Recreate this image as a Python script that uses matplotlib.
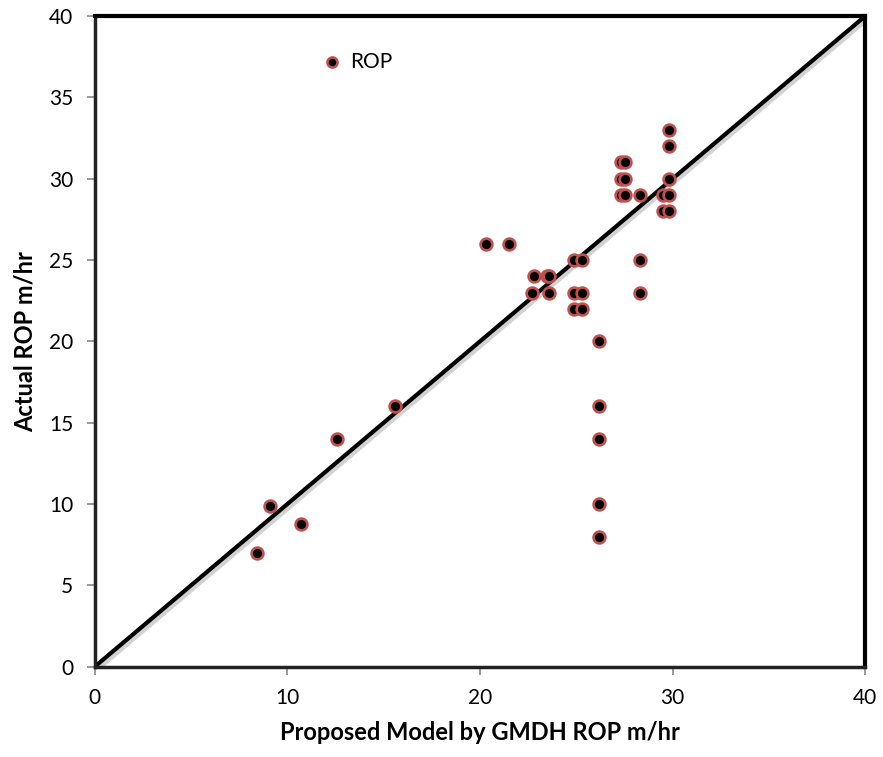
import numpy as np
import matplotlib.pyplot as plt
import matplotlib.patheffects as pe

plt.rcParams['font.family'] = ['Lato', 'DejaVu Sans']

# data
# ---

pred_rop = [8.4, 9.1, 10.7, 12.6, 15.6, 20.3, 21.5,
            22.8, 23.5, 23.6, 22.7, 23.6,
            24.9, 25.3, 24.9, 25.3, 24.9, 25.3,
            26.2, 26.2, 26.2, 26.2, 26.2,
            27.3, 27.5, 27.3, 27.5, 27.3, 27.5,
            28.3, 28.3, 28.3,
            29.5, 29.8, 29.5, 29.8, 29.8, 29.8, 29.8]
actual_rop = [7, 9.9, 8.8, 14, 16, 26, 26,
              24, 24, 24, 23, 23,
              25, 25, 23, 23, 22, 22,
              20, 16, 14, 10, 8,
              31, 31, 30, 30, 29, 29,
              29, 25, 23,
              29, 29, 28, 28, 30, 32, 33]

ticks_x = [0, 10, 20, 30, 40]
ticks_y = [0, 5, 10, 15, 20, 25, 30, 35, 40]
diag = [0, 40]

# plot
# ---

fig = plt.figure(figsize=(8.83, 7.57), dpi=100)
ax = fig.add_axes([0.1073, 0.1193, 0.8727, 0.8596])

ax.plot(diag, diag, color='black', lw=3, zorder=2,
        path_effects=[pe.SimpleLineShadow(offset=(2, -2), shadow_color='gray', alpha=0.35),
                      pe.Normal()])

ax.scatter(pred_rop, actual_rop, s=72, color='black', edgecolors='#C0504D',
           linewidths=1.9, zorder=3, label='ROP')

# decorations
ax.set_xlim(0, 40)
ax.set_ylim(0, 40)
ax.set_xticks(ticks_x)
ax.set_yticks(ticks_y)
ax.tick_params(direction='out', length=5.5, width=1.2, color='#888888', labelsize=15, pad=10)
for side in ['top', 'right']:
    ax.spines[side].set_linewidth(3)
    ax.spines[side].set_color('black')
for side in ['left', 'bottom']:
    ax.spines[side].set_linewidth(2.5)
    ax.spines[side].set_color('#222222')

ax.set_xlabel('Proposed Model by GMDH ROP m/hr', fontsize=17, fontweight='bold', labelpad=9)
ax.set_ylabel('Actual ROP m/hr', fontsize=17, fontweight='bold', labelpad=9)

ax.legend(loc='center left', bbox_to_anchor=(0.27, 0.93), frameon=False,
          fontsize=15, handlelength=1.0, handletextpad=0.35, markerscale=0.85)

plt.savefig('out.png', dpi=100)
plt.close()
